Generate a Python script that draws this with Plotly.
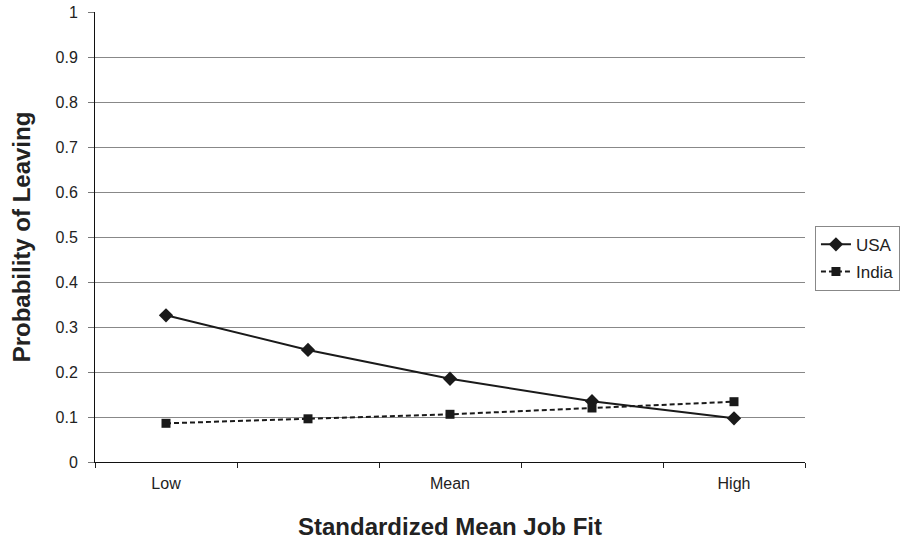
import plotly.graph_objects as go

categories = ["Low", " ", "Mean", "  ", "High"]
usa = [0.326, 0.249, 0.185, 0.135, 0.097]
india = [0.086, 0.096, 0.106, 0.120, 0.134]
y_ticks = [0, 0.1, 0.2, 0.3, 0.4, 0.5, 0.6, 0.7, 0.8, 0.9, 1]
y_tick_text = ["0", "0.1", "0.2", "0.3", "0.4", "0.5", "0.6", "0.7", "0.8", "0.9", "1"]

ink = "#1a1a1a"
fig = go.Figure()
fig.add_trace(go.Scatter(x=categories, y=usa, name="USA", mode="lines+markers",
                         legendgroup="a",
                         line=dict(color=ink, width=2),
                         marker=dict(symbol="diamond", size=11, color=ink)))
fig.add_trace(go.Scatter(x=categories, y=india, name="India", mode="lines+markers",
                         legendgroup="b",
                         line=dict(color=ink, width=2, dash="5px,3px"),
                         marker=dict(symbol="square", size=9, color=ink)))

font = "Liberation Sans, Arial, sans-serif"
fig.update_layout(
    width=901, height=546,
    margin=dict(l=95, r=96, t=12, b=84, autoexpand=False),
    paper_bgcolor="white", plot_bgcolor="white",
    font=dict(family=font, size=16, color="#222222"),
    showlegend=True,
    legend=dict(x=0.9045, y=0.527, xanchor="left", yanchor="middle",
                xref="container", yref="container",
                bordercolor="#888888", borderwidth=1, font=dict(size=17),
                itemwidth=30, traceorder="grouped", tracegroupgap=2, bgcolor="white"),
    xaxis=dict(type="category", range=[-0.5, 4.5], tickson="boundaries", ticks="outside", ticklen=5,
               tickcolor="#222222", showline=True, linecolor="#111111", linewidth=1,
               showgrid=False, ticklabelstandoff=7,
               title=dict(text="<b>Standardized Mean Job Fit</b>", font=dict(size=24), standoff=26)),
    yaxis=dict(range=[0, 1], tickvals=y_ticks, ticktext=y_tick_text, ticks="outside", ticklen=6,
               tickcolor="#777777", showline=True, linecolor="#111111", linewidth=1,
               showgrid=True, gridcolor="#888888", gridwidth=1, zeroline=False,
               ticklabelstandoff=7,
               title=dict(text="<b>Probability of Leaving</b>", font=dict(size=24), standoff=18)),
)
fig.write_html("out.html")
